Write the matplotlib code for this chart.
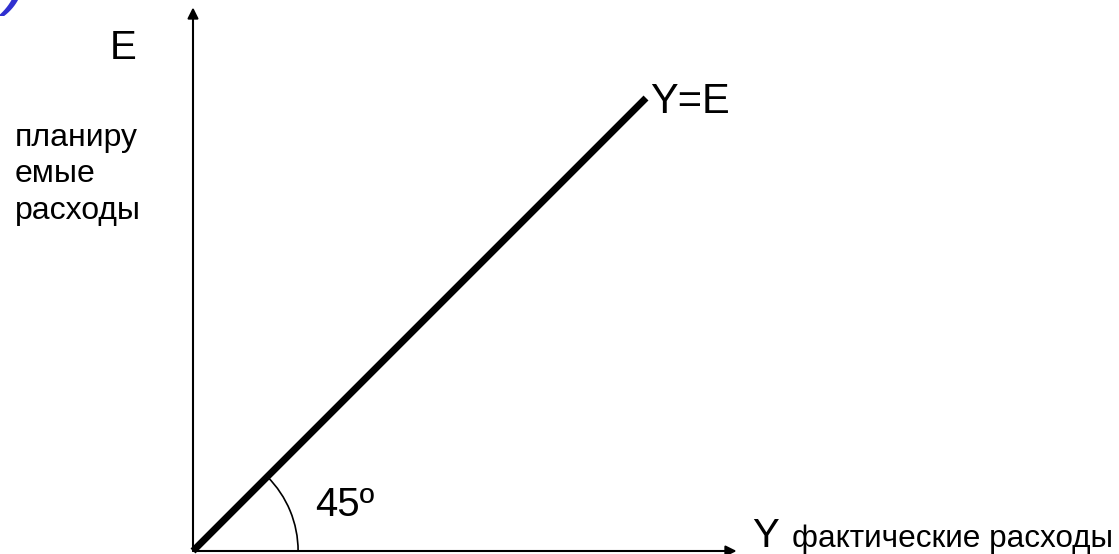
import matplotlib
matplotlib.use("Agg")
import matplotlib.pyplot as plt
from matplotlib.patches import Arc

plt.rcParams["font.family"] = ["Liberation Sans", "DejaVu Sans"]

# Schematic: planned expenditure E vs actual expenditure Y (45 degree line).
LINE_X = [0.0, 1.0]
LINE_Y = [0.0, 1.0]
AXIS_END = 1.2
ANGLE_DEG = 45
ARC_RADIUS = 0.232

Y_LABEL = "E"
Y_DESC = "планиру\nемые\nрасходы"
X_LABEL = "Y"
X_DESC = "фактические расходы"
LINE_LABEL = "Y=E"
ANGLE_LABEL = "45º"

PX = 453.0  # pixels per data unit
W, H = 1119, 554
OX, OY = 193, 551  # pixel position of the origin

fig = plt.figure(figsize=(W / 100, H / 100), dpi=100)
ax = fig.add_axes([0, 0, 1, 1])
ax.set_xlim(-OX / PX, (W - OX) / PX)
ax.set_ylim(-(H - OY) / PX, OY / PX)
ax.axis("off")

# axes with arrows
arrow = dict(arrowstyle="-|>", lw=1.5, color="black", mutation_scale=16,
             shrinkA=0, shrinkB=0)
ax.annotate("", xy=(AXIS_END, 0), xytext=(0, 0), arrowprops=arrow)
ax.annotate("", xy=(0, AXIS_END), xytext=(0, 0), arrowprops=arrow)

# the 45 degree line
ax.plot(LINE_X, LINE_Y, color="black", lw=5, solid_capstyle="butt")

# angle arc
ax.add_patch(Arc((0, 0), 2 * ARC_RADIUS, 2 * ARC_RADIUS, theta1=0,
                 theta2=ANGLE_DEG, color="black", lw=1.2))

ax.text(-0.155, 1.11, Y_LABEL, fontsize=29, ha="center", va="center")
ax.text(-0.393, 0.832, Y_DESC, fontsize=23, ha="left", va="center",
        linespacing=1.28)
ax.text(1.009, 0.991, LINE_LABEL, fontsize=30, ha="left", va="center")
ax.text(0.269, 0.102, ANGLE_LABEL, fontsize=29, ha="left", va="center")
ax.text(1.234, 0.008, X_LABEL, fontsize=29, ha="left", va="baseline")
ax.text(1.322, 0.008, X_DESC, fontsize=22.7, ha="left", va="baseline")

# leftover fragment of a blue bracket in the corner
ax.text(-0.39, 1.18, ")", fontsize=50, color="#3030d0", style="italic",
        ha="center", va="bottom")

fig.savefig("out.png", dpi=100)
